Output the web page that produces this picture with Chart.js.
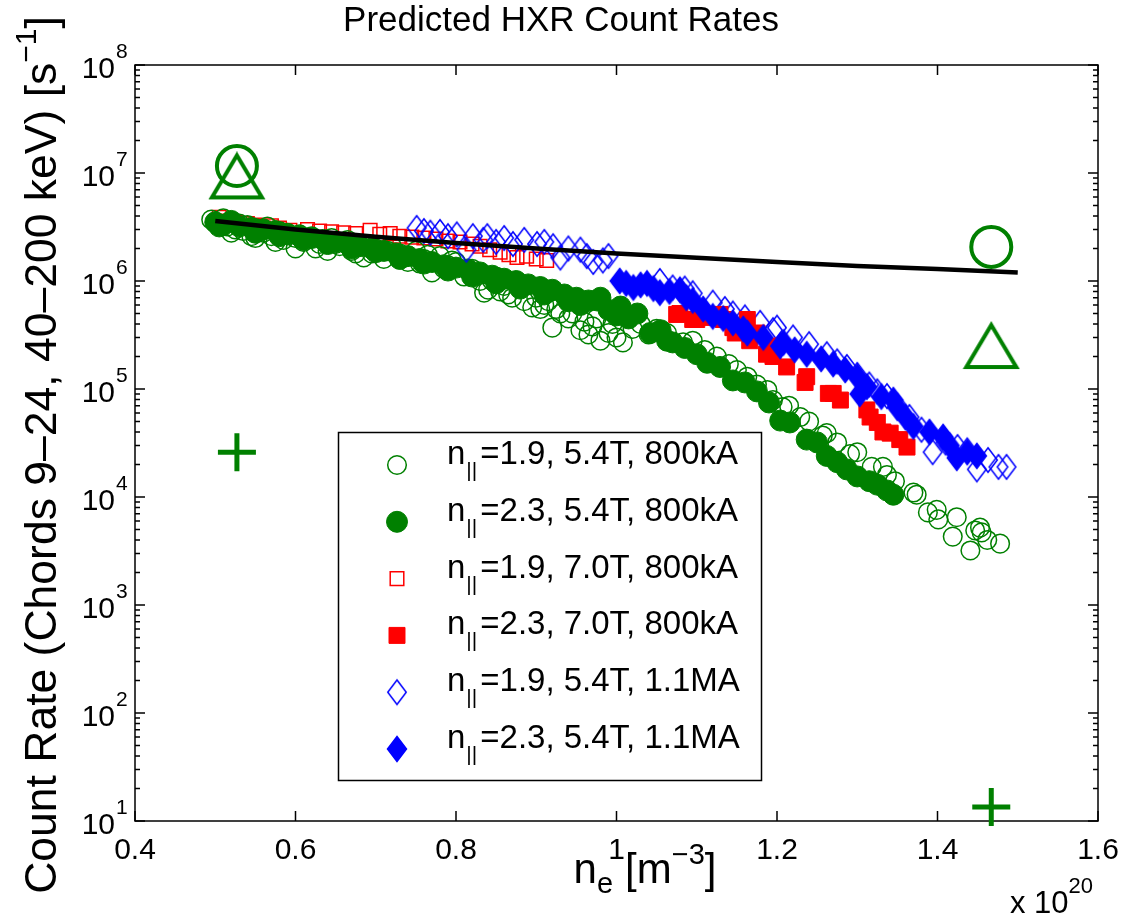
<!DOCTYPE html>
<html><head><meta charset="utf-8">
<script src="https://cdn.jsdelivr.net/npm/chart.js@4.4.0/dist/chart.umd.min.js"></script>
<style>html,body{margin:0;padding:0;background:#fff;}#wrap{width:1128px;height:924px;}</style>
</head><body><div id="wrap"><canvas id="c" width="1128" height="924"></canvas></div>
<script>
const FONT = '"Liberation Sans", Arial, Helvetica, sans-serif';
const titleText = 'Predicted HXR Count Rates';
const xTickValues = [0.4, 0.6, 0.8, 1.0, 1.2, 1.4, 1.6];
const xTickLabels = ['0.4', '0.6', '0.8', '1', '1.2', '1.4', '1.6'];
const yTickExponents = [1, 2, 3, 4, 5, 6, 7, 8];
const legendNpar = ['1.9', '2.3', '1.9', '2.3', '1.9', '2.3'];
const legendField = ['5.4T', '5.4T', '7.0T', '7.0T', '5.4T', '5.4T'];
const legendCurrent = ['800kA', '800kA', '800kA', '800kA', '1.1MA', '1.1MA'];

// n||=1.9, 5.4T, 800kA (open green circles)
const g19x = [0.495,0.50,0.505,0.51,0.515,0.52,0.525,0.53,0.535,0.54,0.545,0.55,0.56,0.565,0.57,0.58,0.585,0.59,0.60,0.605,0.61,0.62,0.63,0.64,0.645,0.655,0.665,0.675,0.685,0.69,0.70,0.71,0.72,0.73,0.74,0.75,0.76,0.77,0.78,0.79,0.80,0.81,0.82,0.83,0.835,0.84,0.85,0.86,0.87,0.88,0.895,0.90,0.91,0.92,0.93,0.94,0.955,0.96,0.97,0.98,0.99,1.0,1.008,1.02,1.04,1.063,1.083,1.095,1.11,1.125,1.14,1.15,1.163,1.175,1.188,1.195,1.207,1.215,1.229,1.24,1.257,1.262,1.275,1.291,1.30,1.318,1.332,1.337,1.347,1.37,1.374,1.388,1.399,1.401,1.419,1.424,1.441,1.447,1.453,1.455,1.462,1.478,
  0.52,0.55,0.575,0.60,0.625,0.65,0.67,0.695,0.715,0.735,0.755,0.765,0.785,0.795,0.815,0.825,0.845,0.855,0.865,0.875,0.885,0.905,0.915,0.925,0.945,0.965,0.975,0.995,1.03,1.05];
const g19y = [3.7e6,3.5e6,3.3e6,3.8e6,3.2e6,3.6e6,3.0e6,3.4e6,2.9e6,3.3e6,2.6e6,3.1e6,2.8e6,3.2e6,2.6e6,2.9e6,2.4e6,2.8e6,2.0e6,2.7e6,2.3e6,2.6e6,2.2e6,1.9e6,2.5e6,2.1e6,2.4e6,1.8e6,1.65e6,2.2e6,2.0e6,1.6e6,2.1e6,1.8e6,1.5e6,1.9e6,1.6e6,1.2e6,1.7e6,1.4e6,1.5e6,1.1e6,1.3e6,1.0e6,7.8e5,8.3e5,1.1e6,9.0e5,7.0e5,8.5e5,5.7e5,7.0e5,6.0e5,3.7e5,5.0e5,4.5e5,3.5e5,4.2e5,3.8e5,2.8e5,3.3e5,3.0e5,2.7e5,3.6e5,3.2e5,3.3e5,2.7e5,2.8e5,2.3e5,2.0e5,1.7e5,1.5e5,1.3e5,1.1e5,9.8e4,7.9e4,6.8e4,7.0e4,5.5e4,5.0e4,3.7e4,3.9e4,3.2e4,2.5e4,2.6e4,1.9e4,1.9e4,1.6e4,1.4e4,1.1e4,1.05e4,7.2e3,7.6e3,6.2e3,4.3e3,6.5e3,3.2e3,4.9e3,5.2e3,4.7e3,4.0e3,3.7e3,
  2.8e6,2.5e6,2.3e6,2.5e6,2.0e6,2.2e6,1.9e6,1.8e6,1.9e6,1.65e6,1.45e6,1.75e6,1.3e6,1.55e6,1.25e6,1.15e6,1.0e6,8.0e5,7.5e5,9.5e5,6.5e5,5.5e5,6.5e5,5.5e5,5.0e5,3.2e5,4.5e5,4.0e5,4.0e5,3.6e5];

// n||=2.3, 5.4T, 800kA (filled green circles)
const g23x = [0.50,0.51,0.52,0.53,0.545,0.56,0.575,0.59,0.605,0.62,0.635,0.65,0.665,0.68,0.695,0.71,0.725,0.74,0.755,0.77,0.785,0.80,0.815,0.83,0.845,0.86,0.875,0.89,0.905,0.92,0.935,0.95,0.965,0.976,0.99,1.005,1.026,1.042,1.055,1.063,1.07,1.085,1.10,1.113,1.129,1.145,1.16,1.175,1.19,1.204,1.216,1.237,1.25,1.262,1.275,1.287,1.30,1.315,1.325,1.337,1.345,
  0.505,0.55,0.58,0.61,0.64,0.67,0.70,0.73,0.76,0.79,0.82,0.85,0.88,0.91,0.94,0.955,0.98,1.0,1.015];
const g23y = [3.5e6,3.3e6,3.6e6,3.2e6,3.1e6,3.0e6,2.9e6,2.7e6,2.6e6,2.5e6,2.4e6,2.3e6,2.2e6,2.1e6,2.0e6,1.9e6,1.8e6,1.7e6,1.6e6,1.5e6,1.4e6,1.33e6,1.28e6,1.2e6,1.12e6,1.05e6,1.0e6,9.3e5,8.8e5,8.3e5,7.5e5,7.0e5,6.6e5,6.6e5,5.4e5,5.8e5,5.0e5,3.3e5,3.5e5,2.8e5,2.7e5,2.4e5,2.1e5,1.75e5,1.6e5,1.2e5,1.15e5,9.5e4,7.5e4,5.1e4,4.9e4,3.4e4,3.2e4,2.4e4,2.1e4,1.8e4,1.55e4,1.4e4,1.3e4,1.15e4,1.05e4,
  3.2e6,2.8e6,2.6e6,2.4e6,2.2e6,2.0e6,1.85e6,1.6e6,1.45e6,1.25e6,1.1e6,9.5e5,8.5e5,7.5e5,6.5e5,6.0e5,7.0e5,4.8e5,4.5e5];

// n||=1.9, 7.0T, 800kA (open red squares)
const r19x = [0.505,0.515,0.525,0.531,0.54,0.55,0.56,0.57,0.58,0.593,0.605,0.615,0.63,0.645,0.66,0.675,0.693,0.705,0.718,0.73,0.745,0.76,0.775,0.79,0.805,0.82,0.83,0.842,0.855,0.866,0.876,0.888,0.90,0.913];
const r19y = [3.9e6,3.6e6,3.5e6,3.2e6,3.4e6,3.3e6,3.1e6,3.25e6,3.1e6,2.95e6,2.6e6,3.0e6,2.9e6,2.85e6,2.8e6,2.75e6,2.95e6,2.7e6,2.75e6,2.6e6,2.55e6,2.5e6,2.45e6,2.35e6,2.3e6,2.2e6,2.1e6,1.95e6,1.85e6,1.75e6,1.65e6,1.7e6,1.6e6,1.55e6];

// n||=2.3, 7.0T, 800kA (filled red squares)
const r23x = [1.075,1.079,1.095,1.10,1.115,1.129,1.133,1.145,1.148,1.163,1.166,1.175,1.187,1.191,1.195,1.212,1.235,1.237,1.264,1.27,1.279,1.312,1.316,1.325,1.332,1.341,1.353,1.362];
const r23y = [4.9e5,5.0e5,4.4e5,4.4e5,4.6e5,4.9e5,4.4e5,3.7e5,3.3e5,4.4e5,2.8e5,3.3e5,2.1e5,2.5e5,2.0e5,1.6e5,1.15e5,1.3e5,9.1e4,9.1e4,7.9e4,6.4e4,5.5e4,4.9e4,4.0e4,3.9e4,3.4e4,2.9e4];

// n||=1.9, 5.4T, 1.1MA (open blue diamonds)
const b19x = [0.751,0.76,0.768,0.78,0.79,0.801,0.813,0.821,0.834,0.839,0.85,0.86,0.871,0.885,0.901,0.91,0.921,0.93,0.94,0.955,0.963,0.971,0.983,0.99,1.054,1.07,1.085,1.095,1.12,1.135,1.145,1.16,1.179,1.195,1.20,1.22,1.24,1.262,1.275,1.287,1.30,1.315,1.325,1.337,1.35,1.365,1.38,1.394,1.41,1.425,1.437,1.449,1.463,1.476,1.486];
const b19y = [3.1e6,2.9e6,2.8e6,2.85e6,2.6e6,2.7e6,1.95e6,2.6e6,2.4e6,2.6e6,2.3e6,2.5e6,2.2e6,2.4e6,2.2e6,2.3e6,2.1e6,1.65e6,2.0e6,1.95e6,1.7e6,1.5e6,1.55e6,1.7e6,1.0e6,8.7e5,8.5e5,7.7e5,6.3e5,5.5e5,5.0e5,4.6e5,4.1e5,3.5e5,3.7e5,3.0e5,2.6e5,2.1e5,1.8e5,1.6e5,1.35e5,1.1e5,9.5e4,8.6e4,7.0e4,5.5e4,4.2e4,2.6e4,3.2e4,2.9e4,2.7e4,1.8e4,2.2e4,1.9e4,1.9e4];

// n||=2.3, 5.4T, 1.1MA (filled blue diamonds)
const b23x = [1.004,1.012,1.021,1.03,1.038,1.046,1.054,1.066,1.079,1.087,1.095,1.108,1.12,1.133,1.145,1.158,1.163,1.183,1.204,1.208,1.222,1.237,1.255,1.27,1.285,1.30,1.303,1.312,1.33,1.345,1.35,1.36,1.37,1.39,1.407,1.415,1.424,1.437,1.449];
const b23y = [1.0e6,9.5e5,8.7e5,9.2e5,9.5e5,8.5e5,7.8e5,8.0e5,8.3e5,7.0e5,6.6e5,5.5e5,4.7e5,4.5e5,4.1e5,3.6e5,3.3e5,3.0e5,2.5e5,2.7e5,2.3e5,2.1e5,1.9e5,1.7e5,1.5e5,1.3e5,9.0e4,1.05e5,8.5e4,7.9e4,6.7e4,5.5e4,4.5e4,4.0e4,3.6e4,3.0e4,2.3e4,2.6e4,2.4e4];

// reference curve (black line)
const lineX = [0.5,0.6,0.7,0.8,0.9,1.0,1.1,1.2,1.3,1.4,1.5];
const lineY = [3.6e6,3.0e6,2.57e6,2.25e6,2.0e6,1.8e6,1.64e6,1.5e6,1.38e6,1.29e6,1.2e6];

// large single markers
const bigCircleX = [0.527, 1.467];
const bigCircleY = [1.16e7, 2.07e6];
const bigTriX = [0.527, 1.467];
const bigTriY = [9.3e6, 2.5e5];
const bigPlusX = [0.527, 1.467];
const bigPlusY = [2.6e4, 13.5];

const GREEN = '#008000', RED = '#ff0000', BLUE = '#0000ff';

function pts(xs, ys) { return xs.map((v, i) => ({x: v, y: ys[i]})); }

function makeTriangle(w, h, lw, color) {
  const c = document.createElement('canvas');
  c.width = Math.ceil(w + lw * 2); c.height = Math.ceil(h + lw * 2);
  const k = c.getContext('2d');
  const ox = (c.width - w) / 2, oy = (c.height - h) / 2;
  k.strokeStyle = color; k.lineWidth = lw; k.lineJoin = 'miter';
  k.beginPath(); k.moveTo(ox + w / 2, oy); k.lineTo(ox + w, oy + h); k.lineTo(ox, oy + h); k.closePath(); k.stroke();
  return c;
}
function makeDiamond(w, h, lw, color, filled) {
  const c = document.createElement('canvas');
  c.width = Math.ceil(w + lw * 2 + 2); c.height = Math.ceil(h + lw * 2 + 2);
  const k = c.getContext('2d');
  const cx = c.width / 2, cy = c.height / 2;
  k.strokeStyle = color; k.fillStyle = color; k.lineWidth = lw;
  k.beginPath(); k.moveTo(cx, cy - h / 2); k.lineTo(cx + w / 2, cy); k.lineTo(cx, cy + h / 2); k.lineTo(cx - w / 2, cy); k.closePath();
  if (filled) k.fill();
  k.stroke();
  return c;
}
const triImg = makeTriangle(50, 42, 4, GREEN);
const diaOpen = makeDiamond(18.5, 24.5, 1.5, BLUE, false);
const diaFill = makeDiamond(19, 25, 1.5, BLUE, true);

const series = [
  {label: 0, data: pts(g19x, g19y), pointStyle: 'circle', pointRadius: 9.3, pointBorderWidth: 1.5, borderColor: GREEN, backgroundColor: 'rgba(0,0,0,0)', order: 8},
  {label: 1, data: pts(g23x, g23y), pointStyle: 'circle', pointRadius: 10.5, pointBorderWidth: 1, borderColor: GREEN, backgroundColor: GREEN, order: 7},
  {label: 2, data: pts(r19x, r19y), pointStyle: 'rect', pointRadius: 9.6, pointBorderWidth: 1.5, borderColor: RED, backgroundColor: 'rgba(0,0,0,0)', order: 9},
  {label: 3, data: pts(r23x, r23y), pointStyle: 'rect', pointRadius: 11.3, pointBorderWidth: 1, borderColor: RED, backgroundColor: RED, order: 5},
  {label: 4, data: pts(b19x, b19y), pointStyle: diaOpen, pointRadius: 10, pointBorderWidth: 1.5, borderColor: BLUE, backgroundColor: 'rgba(0,0,0,0)', order: 6},
  {label: 5, data: pts(b23x, b23y), pointStyle: diaFill, pointRadius: 10, pointBorderWidth: 1, borderColor: BLUE, backgroundColor: BLUE, order: 4}
];

const datasets = series.map(s => Object.assign({showLine: false, clip: false, pointHoverRadius: s.pointRadius}, s, {label: 'series' + s.label}));
datasets.push({label: 'line', data: pts(lineX, lineY), showLine: true, borderColor: '#000', borderWidth: 4.5, pointRadius: 0, tension: 0, order: 3, clip: false});
datasets.push({label: 'bigCircle', data: pts(bigCircleX, bigCircleY), pointStyle: 'circle', pointRadius: 20, pointBorderWidth: 4, borderColor: GREEN, backgroundColor: 'rgba(0,0,0,0)', showLine: false, order: 2, clip: false});
datasets.push({label: 'bigTri', data: pts(bigTriX, bigTriY), pointStyle: triImg, pointRadius: 25, showLine: false, borderColor: GREEN, order: 2, clip: false});
datasets.push({label: 'bigPlus', data: pts(bigPlusX, bigPlusY), pointStyle: 'cross', pointRadius: 19, pointBorderWidth: 5, borderColor: GREEN, showLine: false, order: 1, clip: false});

function drawRich(ctx, parts, x, y, align) {
  let total = 0;
  parts.forEach(p => { ctx.font = p.size + 'px ' + FONT; p.w = ctx.measureText(p.t).width; total += p.w + (p.gap || 0); });
  let cx = align === 'center' ? x - total / 2 : (align === 'right' ? x - total : x);
  ctx.textAlign = 'left'; ctx.textBaseline = 'alphabetic';
  parts.forEach(p => { ctx.font = p.size + 'px ' + FONT; ctx.fillText(p.t, cx, y + (p.dy || 0)); cx += p.w + (p.gap || 0); });
  return total;
}

function drawMarker(ctx, s, x, y) {
  ctx.save();
  ctx.strokeStyle = s.borderColor; ctx.fillStyle = s.backgroundColor; ctx.lineWidth = s.pointBorderWidth;
  if (typeof s.pointStyle !== 'string') {
    ctx.drawImage(s.pointStyle, x - s.pointStyle.width / 2, y - s.pointStyle.height / 2);
  } else if (s.pointStyle === 'circle') {
    ctx.beginPath(); ctx.arc(x, y, s.pointRadius, 0, Math.PI * 2); ctx.fill(); ctx.stroke();
  } else if (s.pointStyle === 'rect') {
    const h = s.pointRadius * Math.SQRT1_2;
    ctx.beginPath(); ctx.rect(x - h, y - h, 2 * h, 2 * h); ctx.fill(); ctx.stroke();
  }
  ctx.restore();
}

const decor = {
  id: 'decor',
  beforeDatasetsDraw(chart) {
    const {ctx, chartArea: a, scales: {x, y}} = chart;
    ctx.save();
    ctx.strokeStyle = '#000'; ctx.lineWidth = 1.5;
    ctx.beginPath();
    xTickValues.forEach(v => {
      const px = x.getPixelForValue(v);
      ctx.moveTo(px, a.bottom); ctx.lineTo(px, a.bottom - 10);
      ctx.moveTo(px, a.top); ctx.lineTo(px, a.top + 10);
    });
    yTickExponents.forEach(e => {
      const py = y.getPixelForValue(Math.pow(10, e));
      ctx.moveTo(a.left, py); ctx.lineTo(a.left + 10, py);
      ctx.moveTo(a.right, py); ctx.lineTo(a.right - 10, py);
      if (e < 8) {
        for (let m = 2; m <= 9; m++) {
          const pm = y.getPixelForValue(m * Math.pow(10, e));
          ctx.moveTo(a.left, pm); ctx.lineTo(a.left + 5, pm);
          ctx.moveTo(a.right, pm); ctx.lineTo(a.right - 5, pm);
        }
      }
    });
    ctx.stroke();
    ctx.strokeRect(a.left, a.top, a.right - a.left, a.bottom - a.top);
    ctx.restore();
  },
  afterDraw(chart) {
    const {ctx, chartArea: a, scales: {x, y}} = chart;
    ctx.save();
    ctx.fillStyle = '#000';
    // title
    ctx.font = '35px ' + FONT; ctx.textAlign = 'center'; ctx.textBaseline = 'alphabetic';
    ctx.fillText(titleText, 561, 31);
    // x tick labels
    ctx.font = '30px ' + FONT;
    xTickValues.forEach((v, i) => { ctx.textAlign = 'center'; ctx.fillText(xTickLabels[i], x.getPixelForValue(v), 859); });
    // y tick labels
    yTickExponents.forEach(e => {
      const py = y.getPixelForValue(Math.pow(10, e));
      ctx.font = '30px ' + FONT; ctx.textAlign = 'right'; ctx.fillText('10', 115, py + 13);
      ctx.font = '21px ' + FONT; ctx.textAlign = 'left'; ctx.fillText(String(e), 116, py - 7);
    });
    // multiplier
    drawRich(ctx, [{t: 'x 10', size: 31}, {t: '20', size: 22, dy: -20}], 1010, 913, 'left');
    // x label
    drawRich(ctx, [{t: 'n', size: 42}, {t: 'e', size: 29, dy: 10, gap: 12}, {t: '[m', size: 42}, {t: '\u22123', size: 29, dy: -19}, {t: ']', size: 42}], 645, 883, 'center');
    // y label
    ctx.save();
    ctx.translate(56, 455); ctx.rotate(-Math.PI / 2);
    drawRich(ctx, [{t: 'Count Rate (Chords 9\u201324, 40\u2013200 keV) [s', size: 44.5}, {t: '\u22121', size: 30, dy: -20}, {t: ']', size: 44.5}], 0, 0, 'center');
    ctx.restore();
    // legend
    const L = {x: 338, y: 432, w: 423, h: 348};
    ctx.fillStyle = '#fff'; ctx.fillRect(L.x, L.y, L.w, L.h);
    ctx.strokeStyle = '#000'; ctx.lineWidth = 1.5; ctx.strokeRect(L.x + 0.5, L.y + 0.5, L.w, L.h);
    series.forEach((s, i) => {
      const cy = 465 + i * 56.8;
      drawMarker(ctx, s, 397, cy);
      ctx.fillStyle = '#000';
      drawRich(ctx, [{t: 'n', size: 33, gap: 1}, {t: '||', size: 21, dy: 13, gap: 3}, {t: '=' + legendNpar[i] + ', ' + legendField[i] + ', ' + legendCurrent[i], size: 33}], 447, cy - 1, 'left');
    });
    ctx.restore();
  }
};

new Chart(document.getElementById('c'), {
  type: 'scatter',
  data: {datasets},
  options: {
    responsive: false, animation: false, devicePixelRatio: 1,
    layout: {padding: {top: 65, right: 30, left: 0, bottom: 0}},
    plugins: {legend: {display: false}, title: {display: false}, tooltip: {enabled: false}},
    elements: {point: {hoverRadius: 0}},
    scales: {
      x: {type: 'linear', min: 0.4, max: 1.6, grid: {display: false}, border: {display: false}, ticks: {display: false}, afterFit: s => { s.height = 103; }},
      y: {type: 'logarithmic', min: 10, max: 1e8, grid: {display: false}, border: {display: false}, ticks: {display: false}, afterFit: s => { s.width = 135; }}
    }
  },
  plugins: [decor]
});
</script></body></html>
